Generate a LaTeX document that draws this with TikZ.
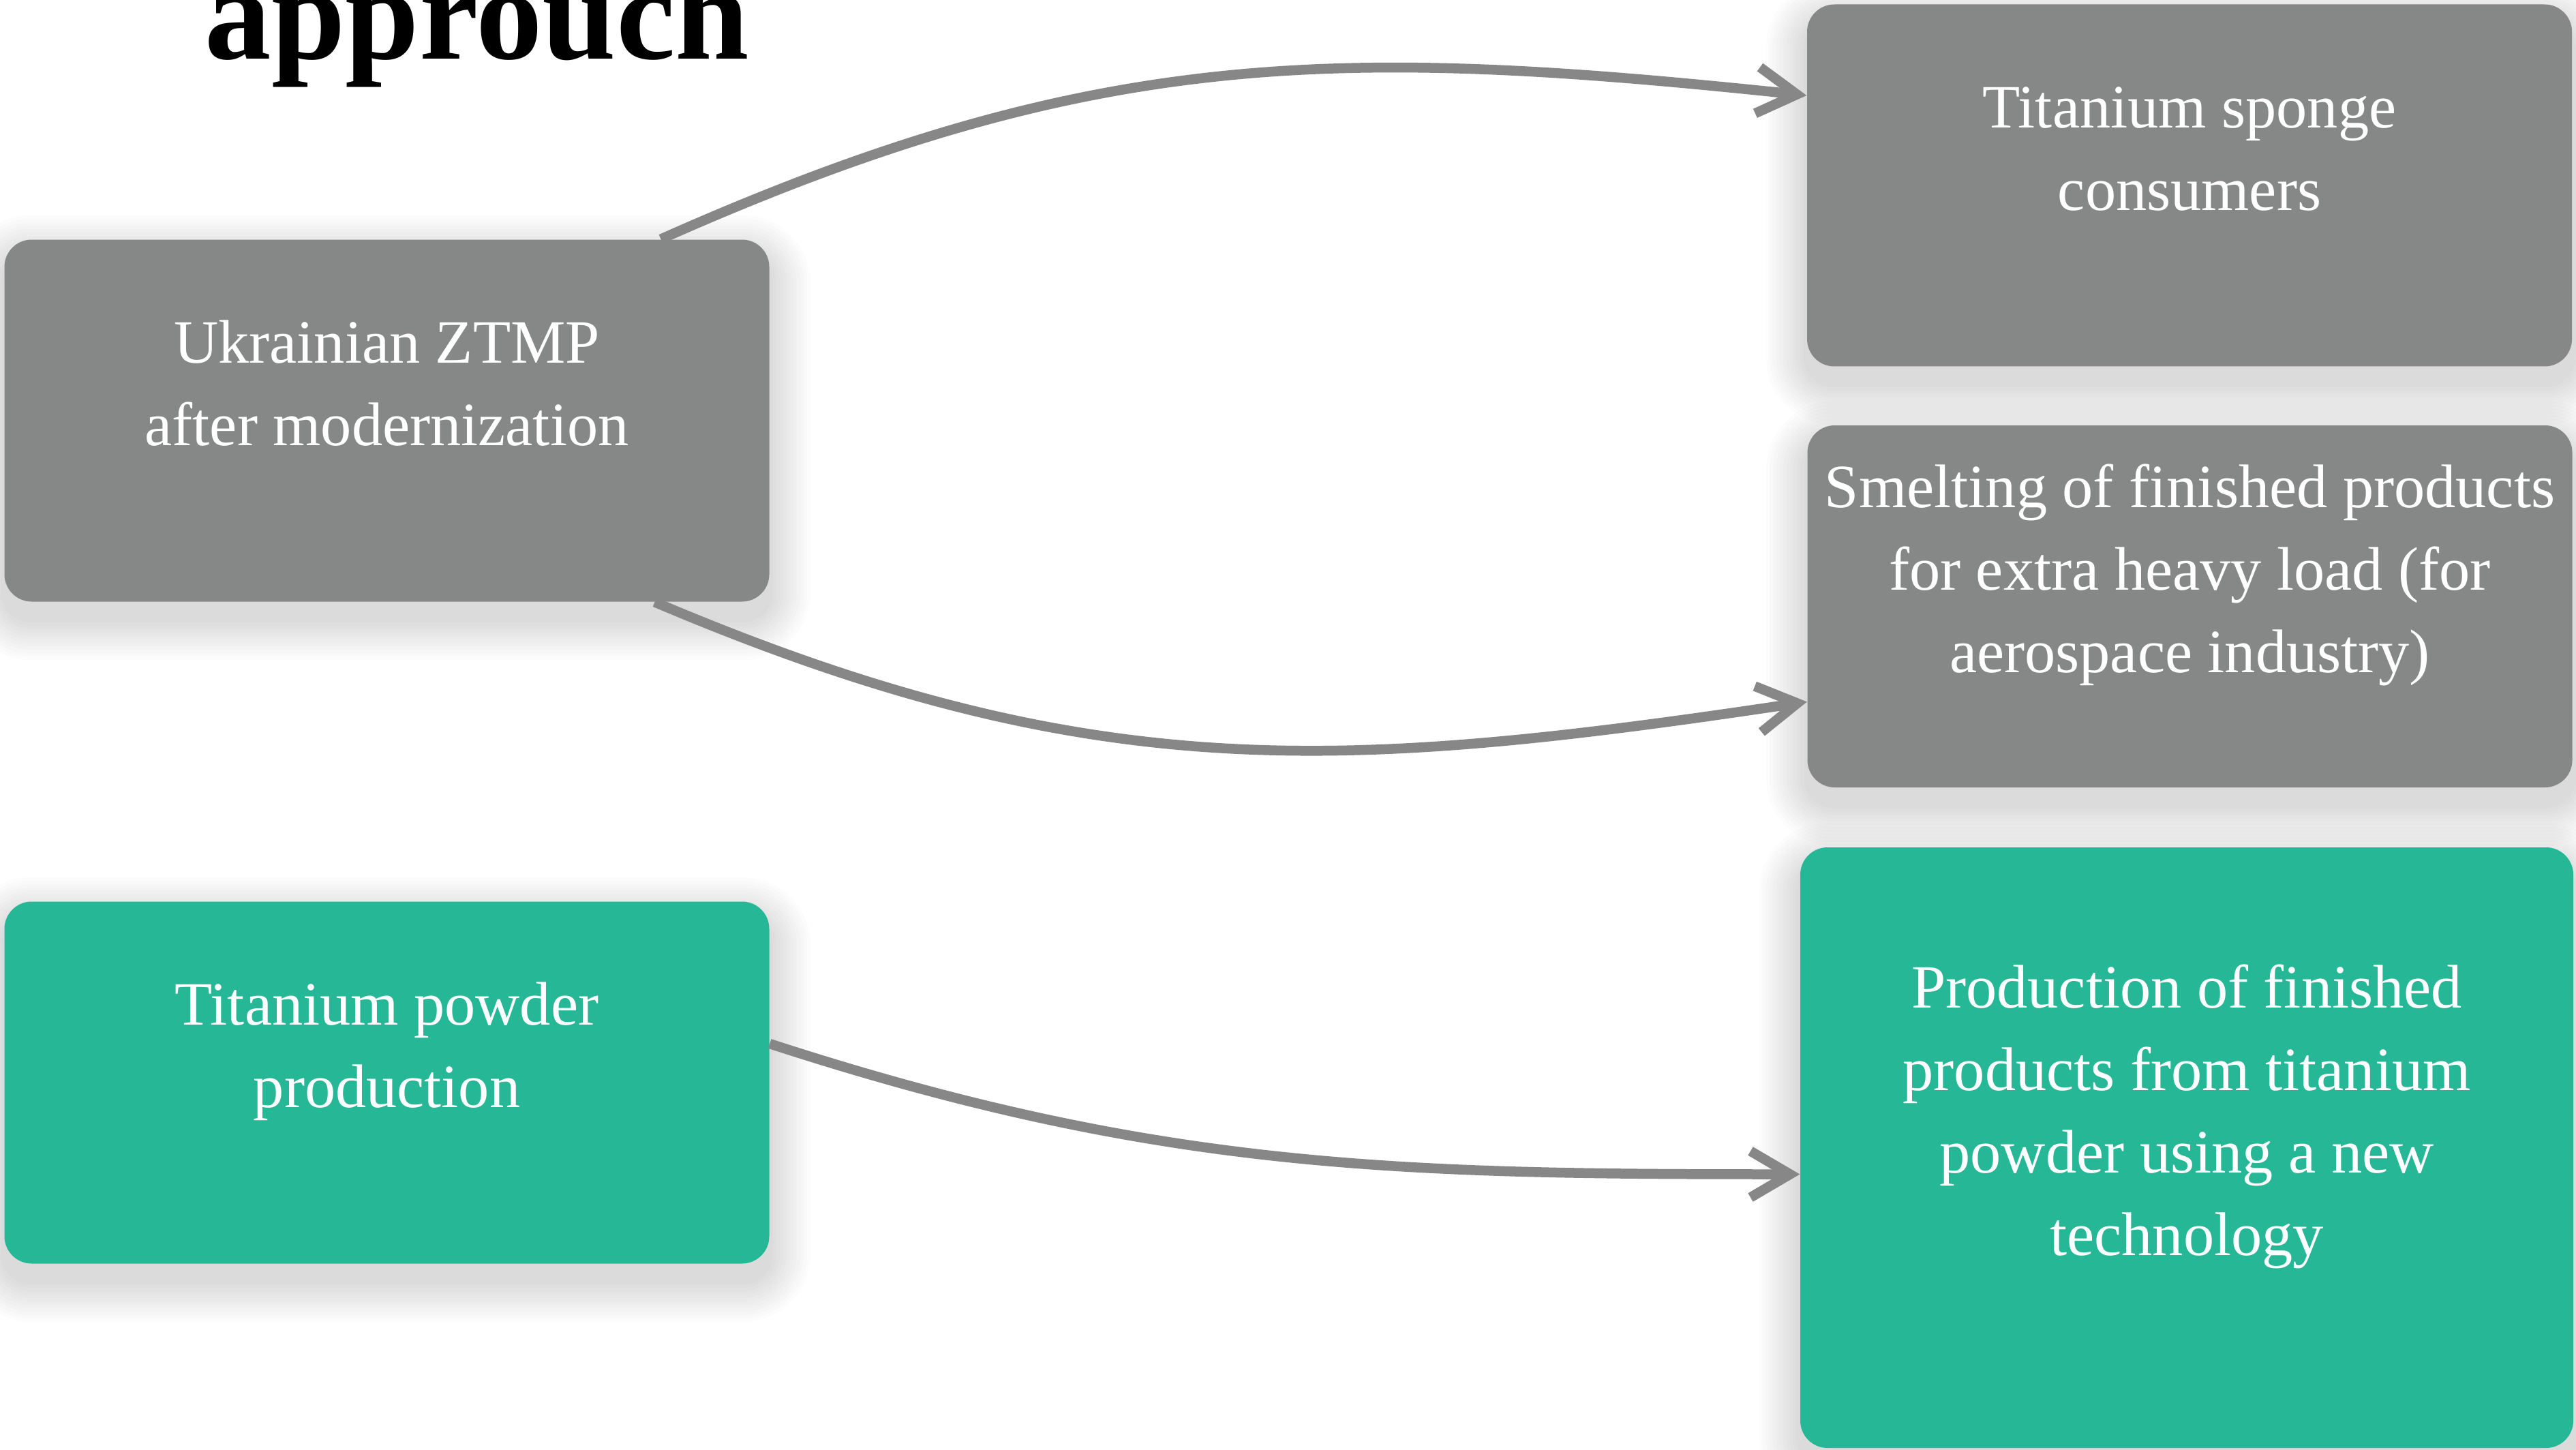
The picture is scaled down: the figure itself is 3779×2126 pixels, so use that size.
\documentclass[tikz,border=0pt]{standalone}
\usepackage{fontspec}
\setmainfont{Liberation Serif}
\usetikzlibrary{arrows.meta,backgrounds,calc}
\definecolor{boxgrey}{HTML}{868887}
\definecolor{boxteal}{HTML}{26B796}
\definecolor{arrowgrey}{HTML}{878787}
\newcommand{\bodyfont}{\fontsize{25.7pt}{34.4pt}\selectfont}
\newcommand{\titlefont}{\fontsize{55.5pt}{60pt}\selectfont\bfseries}
\begin{document}
\begin{tikzpicture}[x=0.1mm,y=0.1mm,
  card/.style={rounded corners=4mm, inner sep=0, minimum width=112.2mm, minimum height=53.1mm},
  greycard/.style={card, fill=boxgrey},
  tealcard/.style={card, fill=boxteal},
  cardtext/.style={text=white, align=center, inner sep=0, font=\bodyfont},
  flow/.style={draw=arrowgrey, line width=1.45mm, -{Straight Barb[length=5.8mm,width=6.8mm]}}]
\useasboundingbox (0,0) rectangle (3779,-2126);

\node[greycard] (b1) at (567.5,-617) {};
\node[greycard] (b2) at (3212,-272) {};
\node[greycard] (b3) at (3212.5,-889.5) {};
\node[tealcard] (b4) at (567.5,-1588) {};
\node[tealcard, minimum width=113.4mm, minimum height=88.1mm] (b5) at (3208,-1683.5) {};

\begin{scope}[on background layer]
  \fill[white] (0,0) rectangle (3779,-2126);
  \foreach \n in {b1,b2,b3,b4,b5}{
    \foreach \i in {1,...,12}{
      \fill[black, opacity=0.013, rounded corners={(4+0.5*\i)*1mm}]
        ([xshift={-0.5*\i*1mm}, yshift={(-2.5-0.5*\i)*1mm}]\n.south west) rectangle
        ([xshift={0.5*\i*1mm}, yshift={(-2.5+0.5*\i)*1mm}]\n.north east);
    }
  }
\end{scope}

\node[cardtext] (t1) at ([yshift=4.8mm]b1.center) {\strut Ukrainian ZTMP\\\strut after modernization};
\node[cardtext] (t2) at ([yshift=4.8mm]b2.center) {\strut Titanium sponge\\\strut consumers};
\node[cardtext] (t3) at ([yshift=4.8mm]b3.center) {\strut Smelting of finished products\\\strut for extra heavy load (for\\\strut aerospace industry)};
\node[cardtext] (t4) at ([yshift=4.8mm]b4.center) {\strut Titanium powder\\\strut production};
\node[cardtext] (t5) at ([yshift=4.8mm]b5.center) {\strut Production of finished\\\strut products from titanium\\\strut powder using a new\\\strut technology};

\node[anchor=base west, inner sep=0, font=\titlefont] (title) at (300,-87) {approuch};

\draw[flow] ([xshift=40.2mm]b1.north) to[out=24,in=174,looseness=1.05] ([yshift=13.2mm]b2.west);
\draw[flow] ([xshift=39.3mm]b1.south) to[out=-23,in=-171.5,looseness=1.05] ([yshift=-14mm]b3.west);
\draw[flow] ([yshift=5.7mm]b4.east) to[out=-18,in=180] ([yshift=-3.9mm]b5.west);
\end{tikzpicture}
\end{document}
